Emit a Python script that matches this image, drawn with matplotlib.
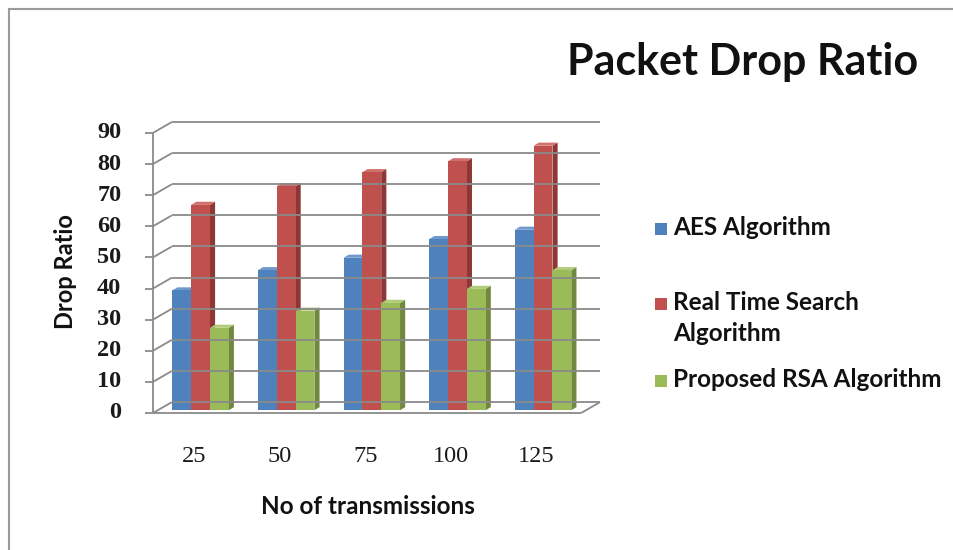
import matplotlib
import matplotlib.pyplot as plt
from matplotlib.patches import Polygon, Rectangle
from matplotlib.lines import Line2D

matplotlib.use("Agg")

# === Data ===
transmissions = ["25", "50", "75", "100", "125"]
series_names = ["AES Algorithm", "Real Time Search\nAlgorithm", "Proposed RSA Algorithm"]
aes = [38.5, 45, 49, 55, 58]
real_time = [66, 72, 76.5, 80, 85]
proposed_rsa = [26.5, 32, 34.5, 39, 45]
y_ticks = [0, 10, 20, 30, 40, 50, 60, 70, 80, 90]

face_colors = ["#4f81bd", "#c0504d", "#9bbb59"]
side_colors = ["#385d8a", "#8c3836", "#71893f"]
top_colors = ["#6f98cc", "#d0706d", "#b0cc78"]

W, H = 954, 550
fig = plt.figure(figsize=(W / 100, H / 100), dpi=100)


def fx(px):
    return px / W


def fy(py):
    return 1 - py / H


# axes span front axis (x=153, y=413) to back wall (x=600, y=122)
ax = fig.add_axes([fx(153), fy(413), fx(600) - fx(153), fy(122) - fy(413)])
depth_x, depth_y = 0.22, 3.5
ax.set_xlim(0, len(transmissions) + depth_x)
ax.set_ylim(0, y_ticks[-1] + depth_y)
ax.axis("off")

grid_kw = dict(color="#8a8a8a", lw=1.3, clip_on=False, solid_capstyle="butt")

# back wall gridlines and left wall diagonals
for v in y_ticks:
    ax.plot([depth_x, len(transmissions) + depth_x], [v + depth_y, v + depth_y], **grid_kw)
    ax.plot([0, depth_x], [v, v + depth_y], **grid_kw)
    ax.plot([-0.09, 0], [v, v], **grid_kw)
    ax.text(-0.37, v, str(v), ha="right", va="center", fontsize=17.5,
            fontweight="bold", family="Liberation Serif", color="#1a1a1a")

# front axis and floor
ax.plot([0, 0], [0, y_ticks[-1]], **grid_kw)
ax.plot([0, len(transmissions)], [0, 0], **grid_kw)
ax.plot([len(transmissions), len(transmissions) + depth_x], [0, depth_y], **grid_kw)

# bars
bar_w = 0.22
side_dx, side_dy = 0.06, 1.0
shift_x, shift_y = 0.25 * depth_x, 0.25 * depth_y
series = [aes, real_time, proposed_rsa]
for i, label in enumerate(transmissions):
    center = i + 0.5
    for k, vals in enumerate(series):
        x0 = center + (k - 1.5) * bar_w + shift_x
        x1 = x0 + bar_w
        y0 = shift_y
        y1 = y0 + vals[i]
        side = [(x1, y0), (x1 + side_dx, y0 + side_dy),
                (x1 + side_dx, y1 + side_dy), (x1, y1)]
        top = [(x0, y1), (x1, y1), (x1 + side_dx, y1 + side_dy), (x0 + side_dx, y1 + side_dy)]
        front = [(x0, y0), (x1, y0), (x1, y1), (x0, y1)]
        ax.add_patch(Polygon(side, closed=True, fc=side_colors[k], ec="none", clip_on=False))
        ax.add_patch(Polygon(top, closed=True, fc=top_colors[k], ec="none", clip_on=False))
        ax.add_patch(Polygon(front, closed=True, fc=face_colors[k], ec="none", clip_on=False))
    ax.text(center - 0.02, -14, label, ha="center", va="center", fontsize=17.5,
            family="Liberation Serif", color="#1a1a1a")

# titles and axis labels
fig.text(fx(743), fy(62), "Packet Drop Ratio", ha="center", va="center",
         fontsize=31, fontweight="bold", family="Lato", color="#111111")
fig.text(fx(66), fy(272), "Drop Ratio", ha="center", va="center", rotation=90,
         fontsize=17, fontweight="bold", family="Lato", color="#111111")
fig.text(fx(368), fy(506), "No of transmissions", ha="center", va="center",
         fontsize=17.5, fontweight="bold", family="Lato", color="#111111")

# legend
legend_rows = [229, 304, 381]
for k, (name, py) in enumerate(zip(series_names, legend_rows)):
    fig.patches.append(Rectangle((fx(655), fy(py + 6)), fx(12), fy(0) - fy(12),
                                 transform=fig.transFigure, fc=face_colors[k], ec="none"))
    fig.text(fx(673), fy(py - 13), name, ha="left", va="top", fontsize=17.5,
             fontweight="bold", family="Lato", color="#111111", linespacing=1.4)

# outer frame
fig.add_artist(Line2D([fx(9), fx(9)], [0, fy(9)], color="#9a9a9a", lw=1.5))
fig.add_artist(Line2D([fx(9), 1], [fy(9), fy(9)], color="#9a9a9a", lw=1.5))

fig.savefig("out.png", dpi=100, facecolor="white")
